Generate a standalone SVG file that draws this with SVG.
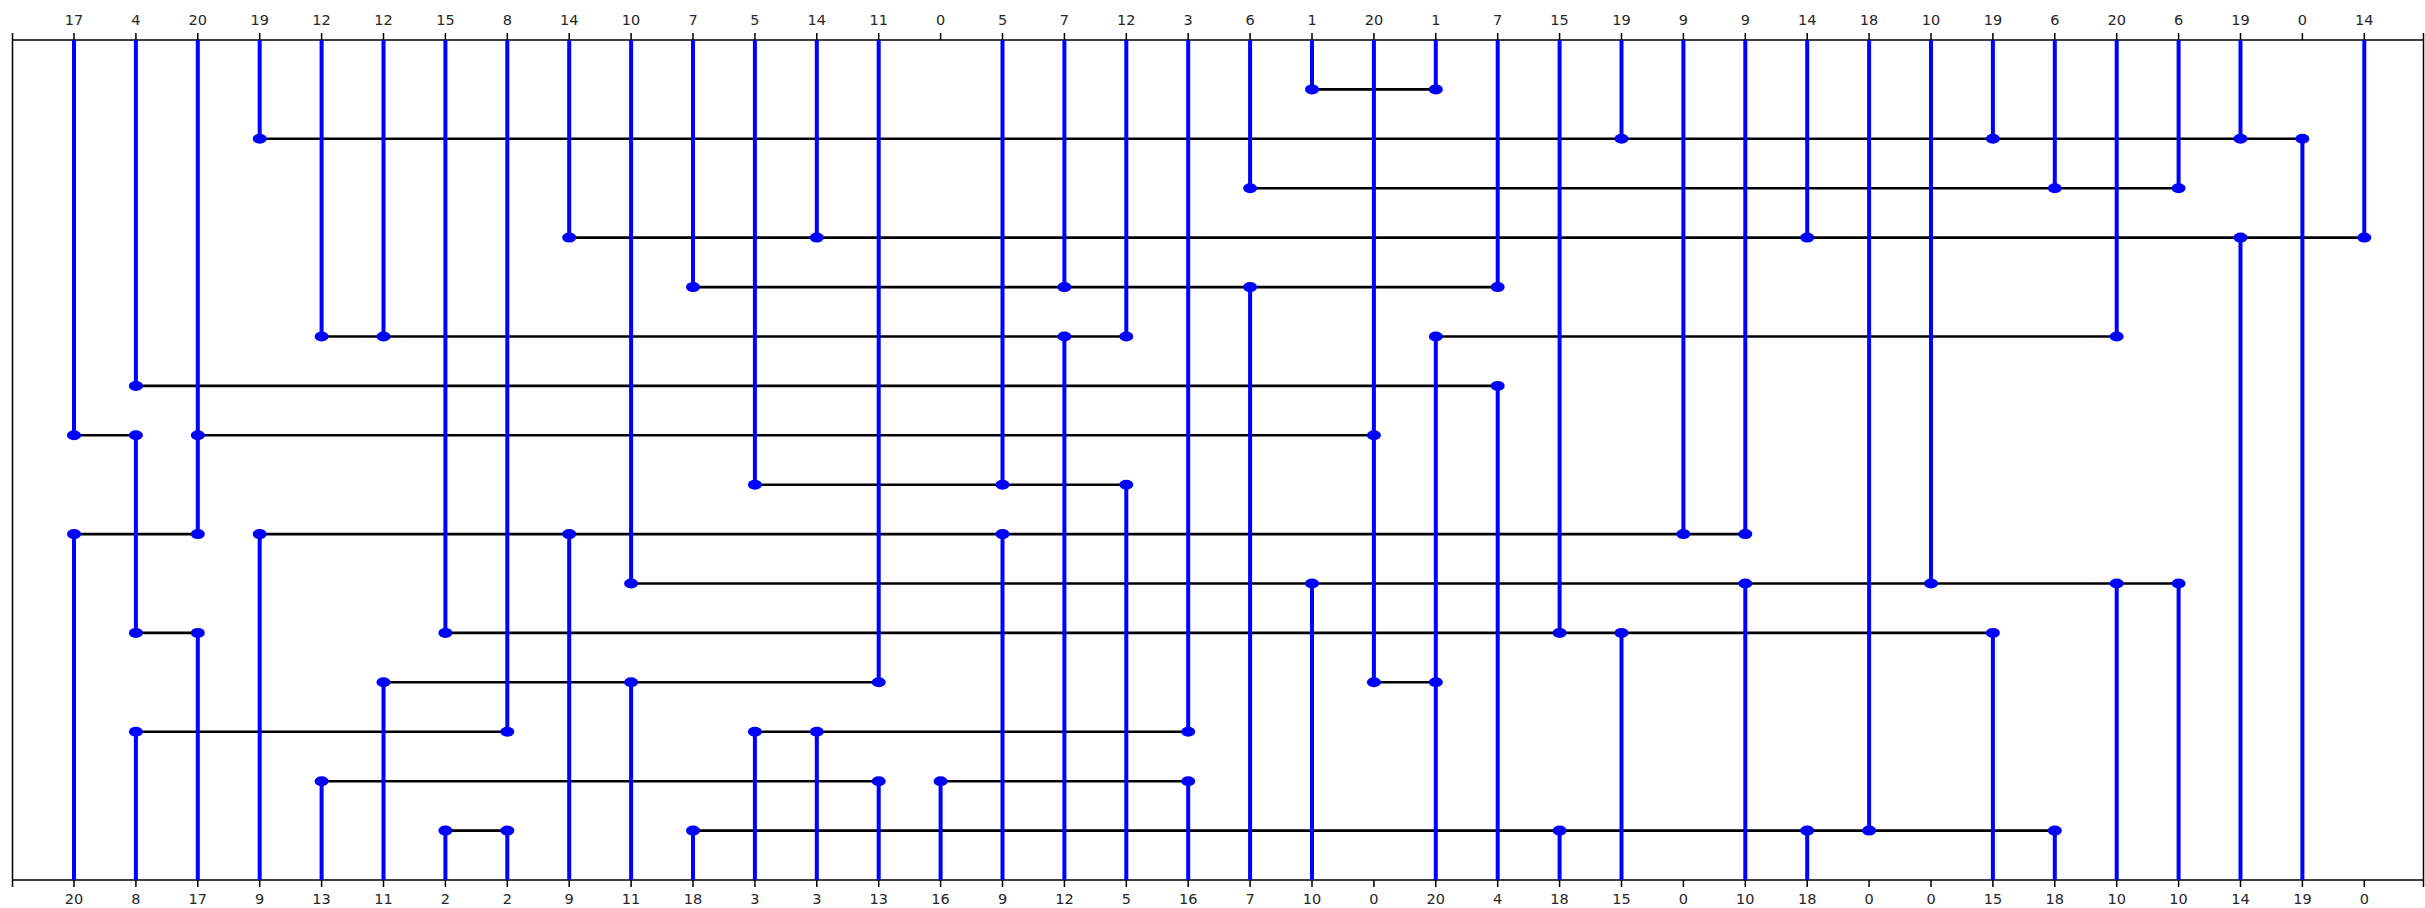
<svg xmlns="http://www.w3.org/2000/svg" width="2425" height="908" viewBox="0 0 2425 908">
<style>
.fr{stroke:#000;stroke-width:1.5;fill:none}
.h{stroke:#000;stroke-width:2.6;fill:none}
.v{stroke:#0000ff;stroke-width:4;fill:none}
.d{fill:#0000ff}
.lb{font-family:"DejaVu Sans",sans-serif;font-size:14.5px;fill:#262626;text-anchor:middle}
</style>
<rect width="2425" height="908" fill="#fff"/>
<g id="frame">
<path class="fr" d="M12.5,40H2423.5M12.5,880H2423.5M12.5,33V887M2423.5,33V887"/>
<path class="fr" d="M74,33V40M135.9,33V40M197.8,33V40M259.7,33V40M321.6,33V40M383.5,33V40M445.4,33V40M507.3,33V40M569.2,33V40M631.1,33V40M693,33V40M754.9,33V40M816.8,33V40M878.7,33V40M940.6,33V40M1002.5,33V40M1064.4,33V40M1126.3,33V40M1188.2,33V40M1250.1,33V40M1312,33V40M1373.9,33V40M1435.8,33V40M1497.7,33V40M1559.6,33V40M1621.5,33V40M1683.4,33V40M1745.3,33V40M1807.2,33V40M1869.1,33V40M1931,33V40M1992.9,33V40M2054.8,33V40M2116.7,33V40M2178.6,33V40M2240.5,33V40M2302.4,33V40M2364.3,33V40"/>
<path class="fr" d="M74,880V887M135.9,880V887M197.8,880V887M259.7,880V887M321.6,880V887M383.5,880V887M445.4,880V887M507.3,880V887M569.2,880V887M631.1,880V887M693,880V887M754.9,880V887M816.8,880V887M878.7,880V887M940.6,880V887M1002.5,880V887M1064.4,880V887M1126.3,880V887M1188.2,880V887M1250.1,880V887M1312,880V887M1373.9,880V887M1435.8,880V887M1497.7,880V887M1559.6,880V887M1621.5,880V887M1683.4,880V887M1745.3,880V887M1807.2,880V887M1869.1,880V887M1931,880V887M1992.9,880V887M2054.8,880V887M2116.7,880V887M2178.6,880V887M2240.5,880V887M2302.4,880V887M2364.3,880V887"/>
</g>
<g id="top-labels" class="lb">
<text x="74" y="24.5">17</text><text x="135.9" y="24.5">4</text><text x="197.8" y="24.5">20</text><text x="259.7" y="24.5">19</text><text x="321.6" y="24.5">12</text><text x="383.5" y="24.5">12</text><text x="445.4" y="24.5">15</text><text x="507.3" y="24.5">8</text><text x="569.2" y="24.5">14</text><text x="631.1" y="24.5">10</text><text x="693" y="24.5">7</text><text x="754.9" y="24.5">5</text><text x="816.8" y="24.5">14</text><text x="878.7" y="24.5">11</text><text x="940.6" y="24.5">0</text><text x="1002.5" y="24.5">5</text><text x="1064.4" y="24.5">7</text><text x="1126.3" y="24.5">12</text><text x="1188.2" y="24.5">3</text><text x="1250.1" y="24.5">6</text><text x="1312" y="24.5">1</text><text x="1373.9" y="24.5">20</text><text x="1435.8" y="24.5">1</text><text x="1497.7" y="24.5">7</text><text x="1559.6" y="24.5">15</text><text x="1621.5" y="24.5">19</text><text x="1683.4" y="24.5">9</text><text x="1745.3" y="24.5">9</text><text x="1807.2" y="24.5">14</text><text x="1869.1" y="24.5">18</text><text x="1931" y="24.5">10</text><text x="1992.9" y="24.5">19</text><text x="2054.8" y="24.5">6</text><text x="2116.7" y="24.5">20</text><text x="2178.6" y="24.5">6</text><text x="2240.5" y="24.5">19</text><text x="2302.4" y="24.5">0</text><text x="2364.3" y="24.5">14</text>
</g>
<g id="bottom-labels" class="lb">
<text x="74" y="903.5">20</text><text x="135.9" y="903.5">8</text><text x="197.8" y="903.5">17</text><text x="259.7" y="903.5">9</text><text x="321.6" y="903.5">13</text><text x="383.5" y="903.5">11</text><text x="445.4" y="903.5">2</text><text x="507.3" y="903.5">2</text><text x="569.2" y="903.5">9</text><text x="631.1" y="903.5">11</text><text x="693" y="903.5">18</text><text x="754.9" y="903.5">3</text><text x="816.8" y="903.5">3</text><text x="878.7" y="903.5">13</text><text x="940.6" y="903.5">16</text><text x="1002.5" y="903.5">9</text><text x="1064.4" y="903.5">12</text><text x="1126.3" y="903.5">5</text><text x="1188.2" y="903.5">16</text><text x="1250.1" y="903.5">7</text><text x="1312" y="903.5">10</text><text x="1373.9" y="903.5">0</text><text x="1435.8" y="903.5">20</text><text x="1497.7" y="903.5">4</text><text x="1559.6" y="903.5">18</text><text x="1621.5" y="903.5">15</text><text x="1683.4" y="903.5">0</text><text x="1745.3" y="903.5">10</text><text x="1807.2" y="903.5">18</text><text x="1869.1" y="903.5">0</text><text x="1931" y="903.5">0</text><text x="1992.9" y="903.5">15</text><text x="2054.8" y="903.5">18</text><text x="2116.7" y="903.5">10</text><text x="2178.6" y="903.5">10</text><text x="2240.5" y="903.5">14</text><text x="2302.4" y="903.5">19</text><text x="2364.3" y="903.5">0</text>
</g>
<g id="connectors" class="h">
<path d="M1312,89.4H1435.8"/>
<path d="M259.7,138.8H2302.4"/>
<path d="M1250.1,188.2H2178.6"/>
<path d="M569.2,237.6H2364.3"/>
<path d="M693,287.1H1497.7"/>
<path d="M321.6,336.5H1126.3"/>
<path d="M1435.8,336.5H2116.7"/>
<path d="M135.9,385.9H1497.7"/>
<path d="M74,435.3H135.9"/>
<path d="M197.8,435.3H1373.9"/>
<path d="M754.9,484.7H1126.3"/>
<path d="M74,534.1H197.8"/>
<path d="M259.7,534.1H1745.3"/>
<path d="M631.1,583.5H2178.6"/>
<path d="M135.9,632.9H197.8"/>
<path d="M445.4,632.9H1992.9"/>
<path d="M383.5,682.3H878.7"/>
<path d="M1373.9,682.3H1435.8"/>
<path d="M135.9,731.7H507.3"/>
<path d="M754.9,731.7H1188.2"/>
<path d="M321.6,781.2H878.7"/>
<path d="M940.6,781.2H1188.2"/>
<path d="M445.4,830.6H507.3"/>
<path d="M693,830.6H2054.8"/>
</g>
<g id="net-1"><path class="v" d="M1312,40V89.4M1435.8,40V89.4"/><ellipse class="d" cx="1312" cy="89.4" rx="7" ry="5"/><ellipse class="d" cx="1435.8" cy="89.4" rx="7" ry="5"/></g>
<g id="net-19"><path class="v" d="M259.7,40V138.8M1621.5,40V138.8M1992.9,40V138.8M2240.5,40V138.8M2302.4,138.8V880"/><ellipse class="d" cx="259.7" cy="138.8" rx="7" ry="5"/><ellipse class="d" cx="1621.5" cy="138.8" rx="7" ry="5"/><ellipse class="d" cx="1992.9" cy="138.8" rx="7" ry="5"/><ellipse class="d" cx="2240.5" cy="138.8" rx="7" ry="5"/><ellipse class="d" cx="2302.4" cy="138.8" rx="7" ry="5"/></g>
<g id="net-6"><path class="v" d="M1250.1,40V188.2M2054.8,40V188.2M2178.6,40V188.2"/><ellipse class="d" cx="1250.1" cy="188.2" rx="7" ry="5"/><ellipse class="d" cx="2054.8" cy="188.2" rx="7" ry="5"/><ellipse class="d" cx="2178.6" cy="188.2" rx="7" ry="5"/></g>
<g id="net-14"><path class="v" d="M569.2,40V237.6M816.8,40V237.6M1807.2,40V237.6M2364.3,40V237.6M2240.5,237.6V880"/><ellipse class="d" cx="569.2" cy="237.6" rx="7" ry="5"/><ellipse class="d" cx="816.8" cy="237.6" rx="7" ry="5"/><ellipse class="d" cx="1807.2" cy="237.6" rx="7" ry="5"/><ellipse class="d" cx="2240.5" cy="237.6" rx="7" ry="5"/><ellipse class="d" cx="2364.3" cy="237.6" rx="7" ry="5"/></g>
<g id="net-7"><path class="v" d="M693,40V287.1M1064.4,40V287.1M1497.7,40V287.1M1250.1,287.1V880"/><ellipse class="d" cx="693" cy="287.1" rx="7" ry="5"/><ellipse class="d" cx="1064.4" cy="287.1" rx="7" ry="5"/><ellipse class="d" cx="1250.1" cy="287.1" rx="7" ry="5"/><ellipse class="d" cx="1497.7" cy="287.1" rx="7" ry="5"/></g>
<g id="net-12"><path class="v" d="M321.6,40V336.5M383.5,40V336.5M1126.3,40V336.5M1064.4,336.5V880"/><ellipse class="d" cx="321.6" cy="336.5" rx="7" ry="5"/><ellipse class="d" cx="383.5" cy="336.5" rx="7" ry="5"/><ellipse class="d" cx="1064.4" cy="336.5" rx="7" ry="5"/><ellipse class="d" cx="1126.3" cy="336.5" rx="7" ry="5"/></g>
<g id="net-20"><path class="v" d="M2116.7,40V336.5M1435.8,336.5V880M1373.9,40V682.3M197.8,40V534.1M74,534.1V880"/><ellipse class="d" cx="1435.8" cy="336.5" rx="7" ry="5"/><ellipse class="d" cx="2116.7" cy="336.5" rx="7" ry="5"/><ellipse class="d" cx="197.8" cy="435.3" rx="7" ry="5"/><ellipse class="d" cx="1373.9" cy="435.3" rx="7" ry="5"/><ellipse class="d" cx="74" cy="534.1" rx="7" ry="5"/><ellipse class="d" cx="197.8" cy="534.1" rx="7" ry="5"/><ellipse class="d" cx="1373.9" cy="682.3" rx="7" ry="5"/><ellipse class="d" cx="1435.8" cy="682.3" rx="7" ry="5"/></g>
<g id="net-4"><path class="v" d="M135.9,40V385.9M1497.7,385.9V880"/><ellipse class="d" cx="135.9" cy="385.9" rx="7" ry="5"/><ellipse class="d" cx="1497.7" cy="385.9" rx="7" ry="5"/></g>
<g id="net-17"><path class="v" d="M74,40V435.3M135.9,435.3V632.9M197.8,632.9V880"/><ellipse class="d" cx="74" cy="435.3" rx="7" ry="5"/><ellipse class="d" cx="135.9" cy="435.3" rx="7" ry="5"/><ellipse class="d" cx="135.9" cy="632.9" rx="7" ry="5"/><ellipse class="d" cx="197.8" cy="632.9" rx="7" ry="5"/></g>
<g id="net-5"><path class="v" d="M754.9,40V484.7M1002.5,40V484.7M1126.3,484.7V880"/><ellipse class="d" cx="754.9" cy="484.7" rx="7" ry="5"/><ellipse class="d" cx="1002.5" cy="484.7" rx="7" ry="5"/><ellipse class="d" cx="1126.3" cy="484.7" rx="7" ry="5"/></g>
<g id="net-9"><path class="v" d="M1683.4,40V534.1M1745.3,40V534.1M259.7,534.1V880M569.2,534.1V880M1002.5,534.1V880"/><ellipse class="d" cx="259.7" cy="534.1" rx="7" ry="5"/><ellipse class="d" cx="569.2" cy="534.1" rx="7" ry="5"/><ellipse class="d" cx="1002.5" cy="534.1" rx="7" ry="5"/><ellipse class="d" cx="1683.4" cy="534.1" rx="7" ry="5"/><ellipse class="d" cx="1745.3" cy="534.1" rx="7" ry="5"/></g>
<g id="net-10"><path class="v" d="M631.1,40V583.5M1931,40V583.5M1312,583.5V880M1745.3,583.5V880M2116.7,583.5V880M2178.6,583.5V880"/><ellipse class="d" cx="631.1" cy="583.5" rx="7" ry="5"/><ellipse class="d" cx="1312" cy="583.5" rx="7" ry="5"/><ellipse class="d" cx="1745.3" cy="583.5" rx="7" ry="5"/><ellipse class="d" cx="1931" cy="583.5" rx="7" ry="5"/><ellipse class="d" cx="2116.7" cy="583.5" rx="7" ry="5"/><ellipse class="d" cx="2178.6" cy="583.5" rx="7" ry="5"/></g>
<g id="net-15"><path class="v" d="M445.4,40V632.9M1559.6,40V632.9M1621.5,632.9V880M1992.9,632.9V880"/><ellipse class="d" cx="445.4" cy="632.9" rx="7" ry="5"/><ellipse class="d" cx="1559.6" cy="632.9" rx="7" ry="5"/><ellipse class="d" cx="1621.5" cy="632.9" rx="7" ry="5"/><ellipse class="d" cx="1992.9" cy="632.9" rx="7" ry="5"/></g>
<g id="net-11"><path class="v" d="M878.7,40V682.3M383.5,682.3V880M631.1,682.3V880"/><ellipse class="d" cx="383.5" cy="682.3" rx="7" ry="5"/><ellipse class="d" cx="631.1" cy="682.3" rx="7" ry="5"/><ellipse class="d" cx="878.7" cy="682.3" rx="7" ry="5"/></g>
<g id="net-8"><path class="v" d="M507.3,40V731.7M135.9,731.7V880"/><ellipse class="d" cx="135.9" cy="731.7" rx="7" ry="5"/><ellipse class="d" cx="507.3" cy="731.7" rx="7" ry="5"/></g>
<g id="net-3"><path class="v" d="M1188.2,40V731.7M754.9,731.7V880M816.8,731.7V880"/><ellipse class="d" cx="754.9" cy="731.7" rx="7" ry="5"/><ellipse class="d" cx="816.8" cy="731.7" rx="7" ry="5"/><ellipse class="d" cx="1188.2" cy="731.7" rx="7" ry="5"/></g>
<g id="net-13"><path class="v" d="M321.6,781.2V880M878.7,781.2V880"/><ellipse class="d" cx="321.6" cy="781.2" rx="7" ry="5"/><ellipse class="d" cx="878.7" cy="781.2" rx="7" ry="5"/></g>
<g id="net-16"><path class="v" d="M940.6,781.2V880M1188.2,781.2V880"/><ellipse class="d" cx="940.6" cy="781.2" rx="7" ry="5"/><ellipse class="d" cx="1188.2" cy="781.2" rx="7" ry="5"/></g>
<g id="net-2"><path class="v" d="M445.4,830.6V880M507.3,830.6V880"/><ellipse class="d" cx="445.4" cy="830.6" rx="7" ry="5"/><ellipse class="d" cx="507.3" cy="830.6" rx="7" ry="5"/></g>
<g id="net-18"><path class="v" d="M1869.1,40V830.6M693,830.6V880M1559.6,830.6V880M1807.2,830.6V880M2054.8,830.6V880"/><ellipse class="d" cx="693" cy="830.6" rx="7" ry="5"/><ellipse class="d" cx="1559.6" cy="830.6" rx="7" ry="5"/><ellipse class="d" cx="1807.2" cy="830.6" rx="7" ry="5"/><ellipse class="d" cx="1869.1" cy="830.6" rx="7" ry="5"/><ellipse class="d" cx="2054.8" cy="830.6" rx="7" ry="5"/></g>
</svg>
